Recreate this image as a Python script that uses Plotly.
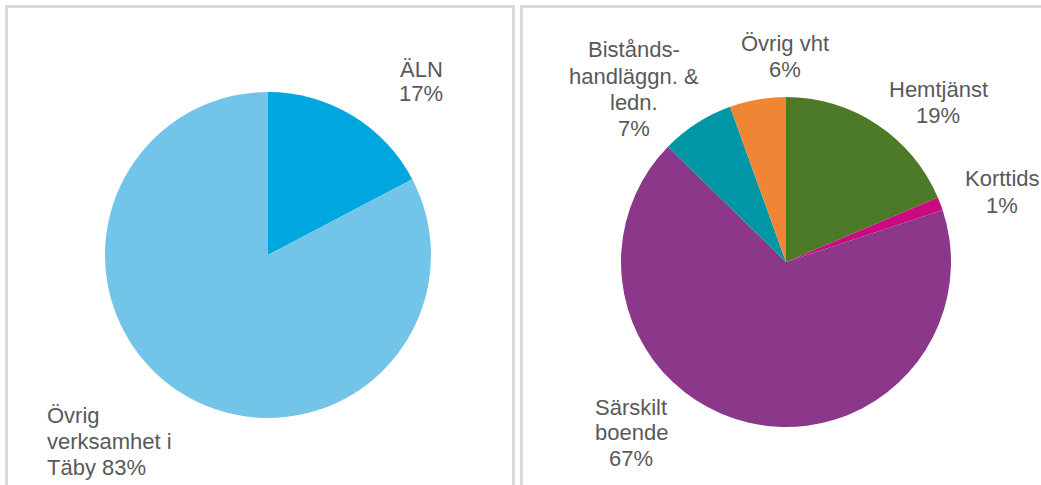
import plotly.graph_objects as go

W, H = 1041, 485

# Left pie
left_labels = ["ÄLN", "Övrig verksamhet i Täby"]
left_values = [17.3, 82.7]
left_colors = ["#00a6de", "#72c5e9"]

# Right pie
right_labels = ["Hemtjänst", "Korttids", "Särskilt boende", "Bistånds-handläggn. & ledn.", "Övrig vht"]
right_values = [18.6, 1.3, 67.4, 7.2, 5.5]
right_colors = ["#4c7a28", "#cc0a80", "#8b388b", "#0096a6", "#ef8636"]

# label text layout (line breaks) for display
left_text_lines = [["ÄLN", "{p}%"], ["Övrig", "verksamhet i", "Täby {p}%"]]
right_text_lines = [["Hemtjänst", "{p}%"], ["Korttids", "{p}%"], ["Särskilt", "boende", "{p}%"],
                    ["Bistånds-", "handläggn. &", "ledn.", "{p}%"], ["Övrig vht", "{p}%"]]

def px(x):
    return x / W

def py(y):
    return 1 - y / H

fig = go.Figure()
fig.add_trace(go.Pie(labels=left_labels, values=left_values, sort=False, direction="clockwise",
                     rotation=0, marker=dict(colors=left_colors, line=dict(width=0)),
                     textinfo="none", hoverinfo="label+percent", showlegend=False,
                     domain=dict(x=[px(105), px(431)], y=[py(418), py(92)])))
fig.add_trace(go.Pie(labels=right_labels, values=right_values, sort=False, direction="clockwise",
                     rotation=0, marker=dict(colors=right_colors, line=dict(width=0)),
                     textinfo="none", hoverinfo="label+percent", showlegend=False,
                     domain=dict(x=[px(621), px(951)], y=[py(427), py(97)])))

# label anchor positions: (x, y of first line centre, line step, alignment)
left_pos = [(421, 70, 24, "center"), (45, 415, 26, "left")]
right_pos = [(938, 89, 26, "center"), (1002, 178, 27, "center"), (631, 407, 25.5, "center"),
             (634, 50, 26.3, "center"), (785, 43, 27, "center")]

font = dict(family="Liberation Sans, Arial, sans-serif", size=22, color="#595959")
annotations = []
for lines, val, (x, y, step, al) in list(zip(left_text_lines, left_values, left_pos)) + \
        list(zip(right_text_lines, right_values, right_pos)):
    for i, l in enumerate(lines):
        txt = l.replace("{p}", str(round(val)))
        annotations.append(dict(text=txt, x=px(x), y=py(y + i * step), xref="paper", yref="paper",
                                xanchor="left" if al == "left" else "center", yanchor="middle",
                                align=al, showarrow=False, font=font))

border = "#d9d9d9"
shapes = []
for (x0, y0, x1, y1) in [(5, 6.5, 515, 6.5), (6.5, 5, 6.5, 490), (513.5, 5, 513.5, 490),
                         (520, 6.5, 1045, 6.5), (521.5, 5, 521.5, 490)]:
    shapes.append(dict(type="line", xref="paper", yref="paper", x0=px(x0), y0=py(y0),
                       x1=px(x1), y1=py(y1), line=dict(color=border, width=3)))

fig.update_layout(width=W, height=H, margin=dict(l=0, r=0, t=0, b=0),
                  paper_bgcolor="white", plot_bgcolor="white",
                  annotations=annotations, shapes=shapes)
fig.write_html("out.html")
